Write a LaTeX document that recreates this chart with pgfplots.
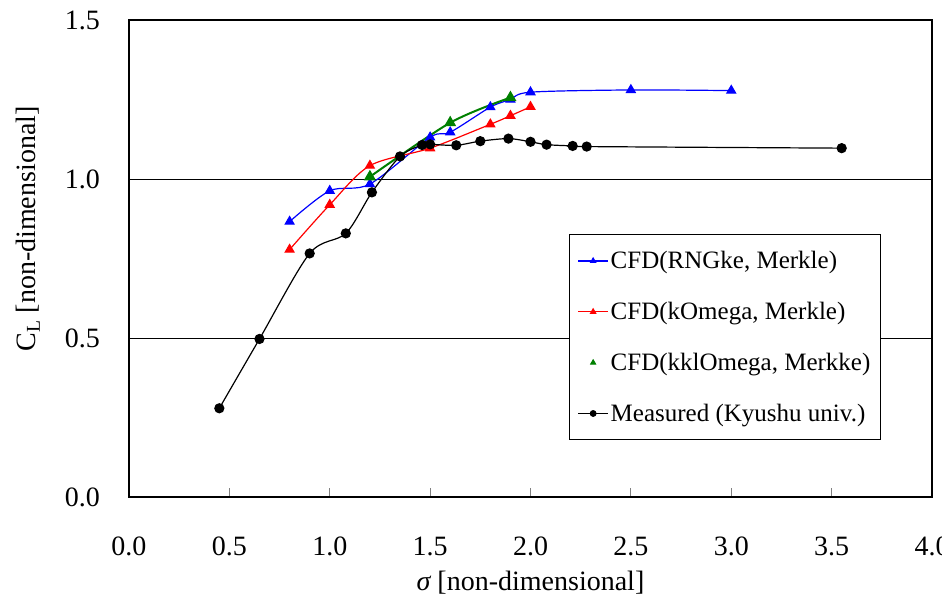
\documentclass[border=0pt]{standalone}
\usepackage{fontspec}
\setmainfont{Liberation Serif}
\usepackage{pgfplots}
\pgfplotsset{compat=1.18}
\definecolor{cblue}{RGB}{0,0,255}
\definecolor{cred}{RGB}{255,0,0}
\definecolor{cgreen}{RGB}{0,128,0}
\begin{document}
\begin{tikzpicture}
\begin{axis}[
  width=803pt, height=477pt, scale only axis,
  xmin=0, xmax=4, ymin=0, ymax=1.5,
  xtick={0,0.5,1,1.5,2,2.5,3,3.5,4},
  ytick={0,0.5,1,1.5},
  ymajorgrids, grid style={black, line width=0.8pt},
  axis line style={black, line width=1.3pt},
  xtick style={draw=gray, line width=1.2pt},
  ytick style={draw=none},
  tick align=inside,
  major tick length=9pt,
  xtick pos=bottom, ytick pos=left,
  tick label style={font=\fontsize{28}{30}\selectfont},
  /pgf/number format/.cd, fixed, fixed zerofill, precision=1, assume math mode=true,
  /pgfplots/.cd,
  yticklabel style={inner sep=0pt, anchor=east, xshift=-29pt},
  xticklabel style={inner sep=0pt, anchor=north, yshift=-40pt},
  xlabel={{\itshape σ} [non-dimensional]},
  ylabel={C\textsubscript{L} [non-dimensional]},
  label style={font=\fontsize{28}{30}\selectfont},
  xlabel style={at={(axis description cs:0.5,0)}, anchor=center, yshift=-86pt},
  ylabel style={at={(axis description cs:-0.1258,0.562)}, anchor=center},
  legend cell align=left,
  legend image code/.code={\draw[mark repeat=2,mark phase=2,#1,mark size=2.8pt] plot coordinates {(0pt,0pt)(15pt,0pt)(30pt,0pt)};},
  legend style={at={(axis cs:2.192,0.827)}, anchor=north west, draw=black, line width=1pt, fill=white,
    font=\fontsize{25}{28}\selectfont, row sep=28pt, inner xsep=8pt, inner ysep=15pt,
    /tikz/every even column/.style={column sep=6pt}},
]
\addplot[cblue, line width=1.2pt, smooth, tension=0.5, mark=triangle*, mark size=5pt, mark options={solid}]
  coordinates {(0.8,0.866)(1.0,0.963)(1.2,0.984)(1.5,1.131)(1.6,1.147)(1.8,1.226)(1.9,1.250)(2.0,1.273)(2.5,1.280)(3.0,1.278)};
\addlegendentry{CFD(RNGke, Merkle)}
\addplot[cred, line width=1.2pt, smooth, tension=0.5, mark=triangle*, mark size=5pt]
  coordinates {(0.8,0.778)(1.0,0.919)(1.2,1.042)(1.5,1.097)(1.8,1.172)(1.9,1.199)(2.0,1.227)};
\addlegendentry{CFD(kOmega, Merkle)}
\addplot[cgreen, line width=2pt, smooth, tension=0.5, mark=triangle*, mark size=5pt, forget plot]
  coordinates {(1.2,1.007)(1.6,1.177)(1.9,1.256)};
\addlegendimage{cgreen, draw=none, legend image code/.code={\path[draw=none] (0pt,0pt) (30pt,0pt); \path[draw=none, fill=cgreen] plot[mark=triangle*, mark size=2.8pt, mark options={draw=cgreen, fill=cgreen}] coordinates {(15pt,0pt)};}}
\addlegendentry{CFD(kklOmega, Merkke)}
\addplot[black, line width=1.2pt, smooth, tension=0.5, mark=*, mark size=4.5pt]
  coordinates {(0.45,0.279)(0.65,0.497)(0.90,0.766)(1.08,0.829)(1.21,0.958)(1.35,1.071)(1.46,1.107)(1.50,1.109)(1.63,1.106)(1.75,1.119)(1.89,1.127)(2.00,1.117)(2.08,1.108)(2.21,1.104)(2.28,1.102)(3.55,1.097)};
\addlegendentry{Measured (Kyushu univ.)}
\coordinate (bbsw) at (axis cs:-0.6426,-0.3428);
\coordinate (bbne) at (axis cs:4.0498,1.5629);
\end{axis}
\pgfresetboundingbox
\useasboundingbox (bbsw) rectangle (bbne);
\end{tikzpicture}
\end{document}
